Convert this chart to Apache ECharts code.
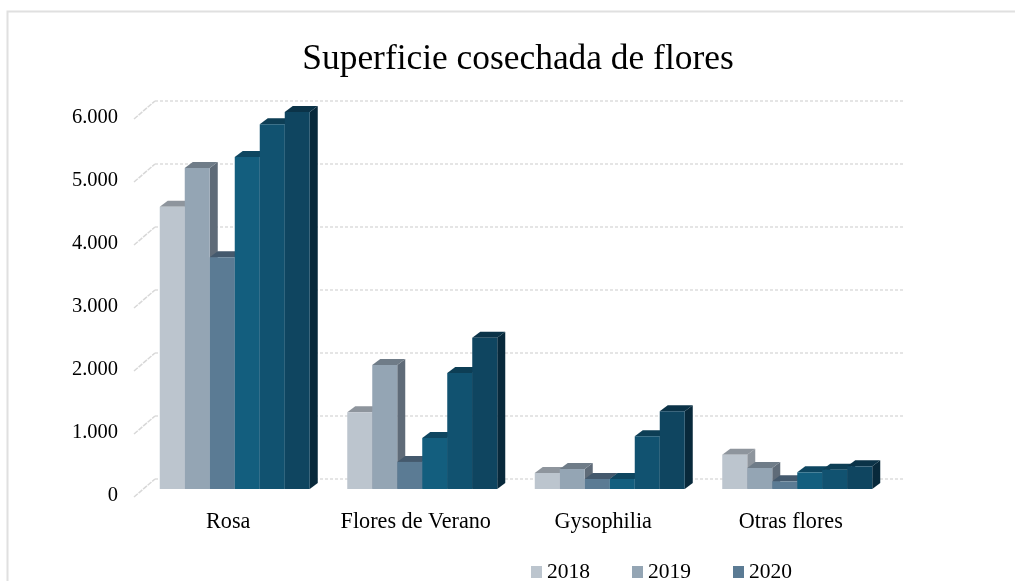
<!DOCTYPE html>
<html><head><meta charset="utf-8">
<style>html,body{margin:0;padding:0;background:#fff}#c{width:1015px;height:581px;overflow:hidden}</style>
<script src="https://cdn.jsdelivr.net/npm/echarts@6/dist/echarts.min.js"></script>
</head><body><div id="c"></div>
<script>
const categories = ['Rosa','Flores de Verano','Gysophilia','Otras flores'];
const v2018 = [4480,1220,254,545];
const v2019 = [5095,1970,317,333];
const v2020 = [3680,430,159,122];
const v2021 = [5270,810,159,265];
const v2022 = [5790,1840,836,307];
const v2023 = [5985,2400,1233,360];
const yTicks = [0,1000,2000,3000,4000,5000,6000];
const seriesNames = ['2018','2019','2020','2021','2022','2023'];
const seriesValues = [v2018,v2019,v2020,v2021,v2022,v2023];
const legendNames = ['2018','2019','2020'];
const fronts = ['#BCC5CE','#94A5B4','#5B7B94','#135E7E','#115270','#0F4560'];
const tops   = ['#8E959D','#6F7C88','#44596D','#0E4660','#0D3E55','#0B3348'];
const sides  = ['#8E959D','#5F6B78','#44596D','#0E4660','#0C3A50','#08293B'];

const FONT = '"Liberation Serif"';
const DX = 14, DY = 10, BAR = 25, SX = 8, SY = 6;
const poly = (pts, fill) => ({type:'polygon', shape:{points:pts}, style:{fill}});

function barRender(si){
  return (params, api) => {
    const base = api.coord([api.value(0), 0]);
    const top = api.coord([api.value(0), api.value(1)]);
    const x0 = base[0] - DX - 3*BAR + si*BAR, x1 = x0 + BAR;
    const y0 = base[1] + DY, y1 = top[1] + DY;
    return {type:'group', children:[
      poly([[x1,y1],[x1+SX,y1-SY],[x1+SX,y0-SY],[x1,y0]], sides[si]),
      poly([[x0,y1],[x0+SX,y1-SY],[x1+SX,y1-SY],[x1,y1]], tops[si]),
      {type:'rect', shape:{x:x0,y:y1,width:BAR,height:y0-y1}, style:{fill:fronts[si]}}
    ]};
  };
}
const series = seriesNames.map((name,si)=>({
  name, type:'custom', clip:false, z:3+si,
  itemStyle:{color:fronts[si]},
  encode:{x:0,y:1},
  data: seriesValues[si].map((v,i)=>[i,v]),
  renderItem: barRender(si)
}));
series.unshift({
  name:'axisDiagonals', type:'custom', clip:false, z:2, silent:true,
  encode:{x:0,y:1},
  data: yTicks.map(t=>[0,t]),
  renderItem:(params,api)=>{
    const p = api.coord([0,api.value(1)]);
    const x = p[0]-api.size([1,0])[0]/2;
    return {type:'line', shape:{x1:x-21,y1:p[1]+18,x2:x,y2:p[1]},
      style:{stroke:'#D8D8D8',lineWidth:1.5,lineDash:[5,1]}};
  }
});

const chart = echarts.init(document.getElementById('c'),null,{renderer:'canvas'});
chart.setOption({
  animation:false,
  backgroundColor:'#fff',
  title:{text:'Superficie cosechada de flores',left:513,top:37,textAlign:'center',
    textStyle:{fontFamily:FONT,fontSize:35.4,fontWeight:'normal',color:'#000'}},
  legend:{data:legendNames,left:531,top:561,padding:0,itemWidth:11,itemHeight:12,itemGap:42,icon:'rect',
    textStyle:{fontFamily:FONT,fontSize:21.5,color:'#000'}},
  grid:{left:155,right:110,top:101,height:378},
  xAxis:{type:'category',data:categories,
    axisLine:{show:false},axisTick:{show:false},
    axisLabel:{interval:0,hideOverlap:false,fontFamily:FONT,fontSize:22.2,color:'#000',margin:32,padding:[0,41,0,0]}},
  yAxis:{type:'value',min:0,max:6000,interval:1000,
    axisLine:{show:false},axisTick:{show:false},
    splitLine:{lineStyle:{color:'#DDDDDD',type:[3,2],width:1.5}},
    axisLabel:{fontFamily:FONT,fontSize:20.5,color:'#000',margin:37,verticalAlign:'top',lineHeight:34,
      formatter:v=>v===0?'0':String(v/1000)+'.000'}},
  series,
  graphic:[{type:'polyline',silent:true,z:-1,shape:{points:[[7.5,600],[7.5,11.5],[1015,11.5]]},
    style:{fill:'none',stroke:'#E0E0E0',lineWidth:2}}]
});
</script></body></html>
